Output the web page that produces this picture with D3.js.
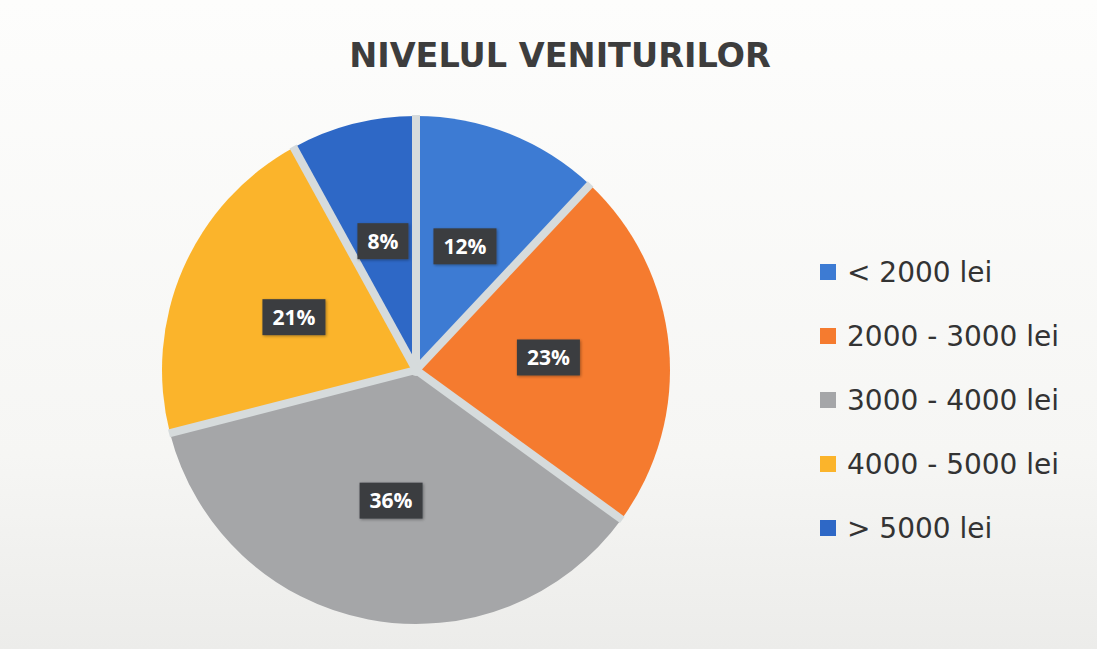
<!DOCTYPE html>
<html>
<head>
<meta charset="utf-8">
<script src="https://cdn.jsdelivr.net/npm/d3@7"></script>
<style>
  html, body { margin: 0; padding: 0; background: #fafaf8; }
  svg { display: block; }
</style>
</head>
<body>
<div id="chart"></div>
<script>
// income level pie
const categories = ["< 2000 lei", "2000 - 3000 lei", "3000 - 4000 lei", "4000 - 5000 lei", "> 5000 lei"];
const values = [12, 23, 36, 21, 8];
const colors = ["#3d7bd3", "#f57b2f", "#a5a6a8", "#fbb42b", "#2e68c6"];
const title = "NIVELUL VENITURILOR";

const width = 1097;
const height = 649;
const cx = 416, cy = 370, radius = 254;

const svg = d3.select("#chart")
    .append("svg")
    .attr("width", width)
    .attr("height", height);

// paper background
const defs = svg.append("defs");
const bg = defs.append("linearGradient")
    .attr("id", "paper")
    .attr("x1", 0).attr("y1", 0).attr("x2", 0).attr("y2", 1);
bg.append("stop").attr("offset", "0%").attr("stop-color", "#fdfdfc");
bg.append("stop").attr("offset", "70%").attr("stop-color", "#f6f6f4");
bg.append("stop").attr("offset", "100%").attr("stop-color", "#ececea");

const shadow = defs.append("filter")
    .attr("id", "boxshadow")
    .attr("x", "-30%").attr("y", "-30%").attr("width", "160%").attr("height", "160%");
shadow.append("feGaussianBlur").attr("in", "SourceAlpha").attr("stdDeviation", 1.5);
shadow.append("feOffset").attr("dx", 1).attr("dy", 1).attr("result", "b");
shadow.append("feComponentTransfer").append("feFuncA").attr("type", "linear").attr("slope", 0.35);
const merge = shadow.append("feMerge");
merge.append("feMergeNode");
merge.append("feMergeNode").attr("in", "SourceGraphic");

svg.append("rect")
    .attr("width", width)
    .attr("height", height)
    .attr("fill", "url(#paper)");

// title
svg.append("text")
    .attr("x", 560)
    .attr("y", 67)
    .attr("text-anchor", "middle")
    .attr("font-family", "DejaVu Sans")
    .attr("font-weight", "bold")
    .attr("font-size", 33.5)
    .attr("fill", "#3d3d3d")
    .text(title);

const data = categories.map(function (c, i) {
    return { label: c, value: values[i], color: colors[i] };
});

const pie = d3.pie()
    .sort(null)
    .value(function (d) { return d.value; });

const arcs = pie(data);

const arc = d3.arc()
    .innerRadius(0)
    .outerRadius(radius);

const labelArc = d3.arc()
    .innerRadius(133)
    .outerRadius(133);

const g = svg.append("g")
    .attr("transform", `translate(${cx},${cy})`);

g.selectAll("path.slice")
    .data(arcs)
    .enter()
    .append("path")
    .attr("class", "slice")
    .attr("d", arc)
    .attr("fill", function (d) { return d.data.color; });

// light gaps between slices
g.selectAll("line.gap")
    .data(arcs)
    .enter()
    .append("line")
    .attr("class", "gap")
    .attr("x1", 0)
    .attr("y1", 0)
    .attr("x2", function (d) { return (radius + 1) * Math.sin(d.startAngle); })
    .attr("y2", function (d) { return -(radius + 1) * Math.cos(d.startAngle); })
    .attr("stroke", "#d6dbdc")
    .attr("stroke-width", 8);

g.append("circle")
    .attr("r", 6)
    .attr("fill", "#d6dbdc");

// value labels
const total = d3.sum(values);
const labels = g.selectAll("g.lbl")
    .data(arcs)
    .enter()
    .append("g")
    .attr("class", "lbl")
    .attr("transform", function (d) {
        const c = labelArc.centroid(d);
        return `translate(${c[0]},${c[1]})`;
    });

labels.append("rect")
    .attr("fill", "#3a3d41")
    .attr("filter", "url(#boxshadow)");

labels.append("text")
    .attr("text-anchor", "middle")
    .attr("dy", "0.36em")
    .attr("font-family", "Open Sans")
    .attr("font-weight", "bold")
    .attr("font-size", 21)
    .attr("fill", "#ffffff")
    .text(function (d) { return Math.round(d.data.value / total * 100) + "%"; });

labels.each(function () {
    const t = d3.select(this).select("text").node().getBBox();
    d3.select(this).select("rect")
        .attr("x", -t.width / 2 - 10)
        .attr("y", -18)
        .attr("width", t.width + 20)
        .attr("height", 36);
});

// legend
const ly = d3.scalePoint()
    .domain(categories)
    .range([272, 528]);

const legend = svg.append("g")
    .selectAll("g")
    .data(data)
    .enter()
    .append("g")
    .attr("transform", function (d) { return `translate(820,${ly(d.label)})`; });

legend.append("rect")
    .attr("x", 0)
    .attr("y", -8)
    .attr("width", 16)
    .attr("height", 16)
    .attr("fill", function (d) { return d.color; });

legend.append("text")
    .attr("x", 27)
    .attr("y", 10)
    .attr("font-family", "DejaVu Sans")
    .attr("font-size", 28)
    .attr("fill", "#333333")
    .text(function (d) { return d.label; });
</script>
</body>
</html>
